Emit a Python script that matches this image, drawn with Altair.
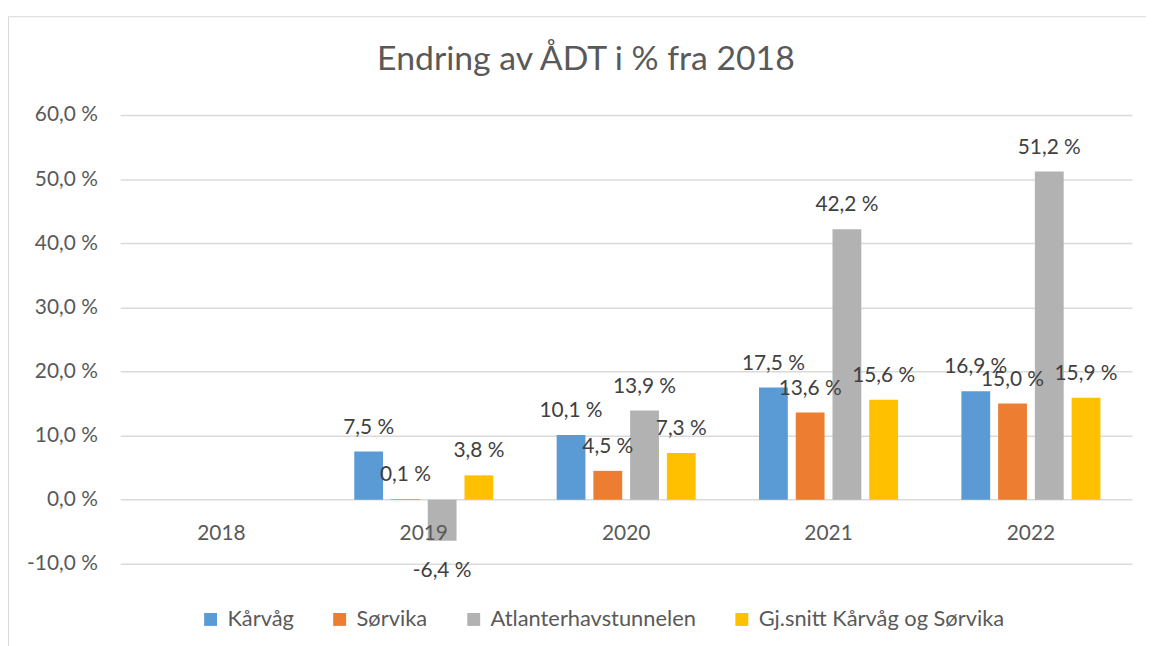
import altair as alt
import pandas as pd

title_text = "Endring av ÅDT i % fra 2018"
years = ["2018", "2019", "2020", "2021", "2022"]
series = ["Kårvåg", "Sørvika", "Atlanterhavstunnelen", "Gj.snitt Kårvåg og Sørvika"]
karvag = [None, 7.5, 10.1, 17.5, 16.9]
sorvika = [None, 0.1, 4.5, 13.6, 15.0]
atlanter = [None, -6.4, 13.9, 42.2, 51.2]
snitt = [None, 3.8, 7.3, 15.6, 15.9]
colors = ["#5B9BD5", "#ED7D31", "#B2B2B2", "#FFC000"]
y_ticks = [-10, 0, 10, 20, 30, 40, 50, 60]

rows = []
for name, vals in zip(series, [karvag, sorvika, atlanter, snitt]):
    for yr, v in zip(years, vals):
        if v is None:
            continue
        rows.append({"year": yr, "series": name, "value": v,
                     "label": f"{v:.1f}".replace(".", ",") + " %"})
df = pd.DataFrame(rows)

FONT = "Lato"
TXT = "#595959"

x_enc = alt.X("year:N", scale=alt.Scale(domain=years, paddingInner=0.313, paddingOuter=0.1565),
              axis=alt.Axis(title=None, orient="bottom", offset=-64.6, domain=False, ticks=False,
                            tickSize=0, grid=False, labelFont=FONT, labelFontSize=21,
                            labelColor=TXT, labelBaseline="alphabetic", labelPadding=40,
                            labelAngle=0, zindex=2))
xo_enc = alt.XOffset("series:N", scale=alt.Scale(domain=series, paddingInner=0.216, paddingOuter=0))
y_enc = alt.Y("value:Q", scale=alt.Scale(domain=[-10, 60], nice=False, zero=False),
              axis=alt.Axis(title=None, values=y_ticks, domain=False, ticks=False, tickSize=0,
                            grid=True, gridColor="#DADADA", gridWidth=1.5, zindex=0,
                            labelFont=FONT, labelFontSize=21, labelColor=TXT, labelPadding=23,
                            labelExpr="(datum.value < 0 ? '-' : '') + replace(format(abs(datum.value), '.1f'), '.', ',') + ' %'"))

base = alt.Chart(df)

bars = base.mark_bar().encode(
    x=x_enc, xOffset=xo_enc, y=y_enc,
    color=alt.Color("series:N", scale=alt.Scale(domain=series, range=colors),
                    legend=alt.Legend(title=None, orient="none", legendX=80, legendY=497,
                                      direction="horizontal", symbolType="square",
                                      symbolSize=169, symbolStrokeWidth=0, labelFont=FONT,
                                      labelFontSize=22, labelColor=TXT, labelOffset=6,
                                      columnPadding=35, padding=0, labelLimit=0)),
)

pos_labels = base.transform_filter("datum.value >= 0").mark_text(
    font=FONT, fontSize=21, color="#404040", baseline="alphabetic", dy=-18
).encode(x="year:N", xOffset="series:N", y="value:Q", text="label:N")

neg_labels = base.transform_filter("datum.value < 0").mark_text(
    font=FONT, fontSize=21, color="#404040", baseline="alphabetic", dy=36
).encode(x="year:N", xOffset="series:N", y="value:Q", text="label:N")

frame_df = pd.DataFrame({"k": [0]})
title_df = pd.DataFrame({"t": [title_text]})
top_border = alt.Chart(frame_df).mark_rule(color="#D9D9D9", strokeWidth=1).encode(
    x=alt.value(-112.5), x2=alt.value(1040), y=alt.value(-99))
left_border = alt.Chart(frame_df).mark_rule(color="#D9D9D9", strokeWidth=1).encode(
    x=alt.value(-112.5), y=alt.value(-99), y2=alt.value(540))
title_mark = alt.Chart(title_df).mark_text(
    font=FONT, fontSize=34, color=TXT, baseline="alphabetic", align="center"
).encode(x=alt.value(469), y=alt.value(-45), text="t:N")

chart = alt.layer(top_border, left_border, title_mark, bars, pos_labels, neg_labels).properties(
    width=1019, height=452,
    autosize=alt.AutoSizeParams(type="none"),
    padding={"left": 113, "top": 105.5, "right": 14, "bottom": 80.5},
).configure(background="white").configure_view(stroke=None)

chart.save("out.html", embed_options={"renderer": "svg", "actions": False})
